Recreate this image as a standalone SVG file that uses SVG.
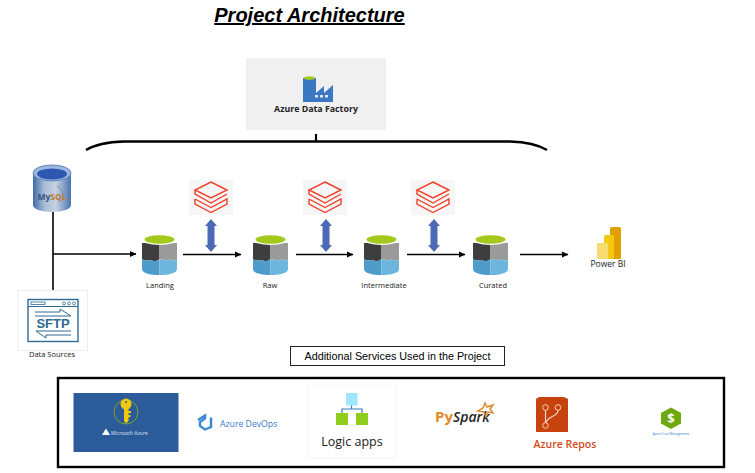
<svg xmlns="http://www.w3.org/2000/svg" width="755" height="473" viewBox="0 0 755 473">
<style>
text{font-family:"Open Sans","Liberation Sans",sans-serif;fill:#222}
.lbl{font-size:7.5px;text-anchor:middle}
.ln{stroke:#000;stroke-width:1.6;fill:none}
.arr{stroke:#000;stroke-width:1.6;fill:none;marker-end:url(#ah)}
.dbk{fill:none;stroke:#f0402a;stroke-width:1.4}
</style>
<defs>
<marker id="ah" markerUnits="userSpaceOnUse" markerWidth="7" markerHeight="7" refX="6.5" refY="3.5" orient="auto"><path d="M0 0.3L7 3.5L0 6.7z" fill="#000"/></marker>
<linearGradient id="mysqlBody" x1="0" y1="0" x2="1" y2="0"><stop offset="0" stop-color="#3f6aa8"/><stop offset="0.3" stop-color="#a9bcd6"/><stop offset="0.6" stop-color="#c6d2e2"/><stop offset="1" stop-color="#4a74b0"/></linearGradient>
<g id="cyl">
<path d="M0 6V37C0 41 8 43 18.500 43S37 41 37 37V6z" fill="#fff"/>
<path d="M18.500 10H1V26C5 29 8 26 11 27.500S16 28 18.500 26z" fill="#3e3e3e"/>
<path d="M18.500 10H36V27C32 28 30 26 27 27S22 26 18.500 26z" fill="#9a9a9a"/>
<path d="M1 26C5 29 8 26 11 27.500S16 28 18.500 26V42C9 42 1 40 1 36z" fill="#4f9bc9"/>
<path d="M36 27C32 28 30 26 27 27S22 26 18.500 26V42C28 42 36 40 36 36z" fill="#6cb6de"/>
<ellipse cx="18.500" cy="6" rx="18.500" ry="6" fill="#fff"/>
<ellipse cx="18.500" cy="6.500" rx="15" ry="4.200" fill="#a4c81c"/>
</g>
<g id="dbk">
<rect width="44" height="35" fill="#f6f6f6"/>
<path class="dbk" d="M22 2L38 10L22 18L6 10zM6 10V14L22 23L38 14M6 19L22 27.500L38 19V24L22 32.500L6 24V19"/>
</g>
<path id="vdbl" d="M0 0L6 7H3.500V26H6L0 33L-6 26H-3.500V7H-6z" fill="#4a6ab5"/>
</defs>

<text id="title" x="309.500" y="22" text-anchor="middle" font-size="20" font-weight="700" font-style="italic" text-decoration="underline" style="font-family:'Liberation Sans',sans-serif;fill:#000">Project Architecture</text>

<g id="connectors">
<path d="M86 150C96 144 108 142 124 141.500H510C526 142 537 144 547 150" fill="none" stroke="#000" stroke-width="2.600"/>
<path d="M316 134V142" stroke="#000" stroke-width="2.200"/>
<path class="ln" d="M53 212V291"/>
<path class="arr" d="M53 254H136"/>
<path class="arr" d="M183 254.500H241"/>
<path class="arr" d="M296 254.500H353"/>
<path class="arr" d="M407 254.500H465"/>
<path class="arr" d="M520 254.500H568"/>
<use href="#vdbl" x="211" y="219"/>
<use href="#vdbl" x="326" y="219"/>
<use href="#vdbl" x="434" y="219"/>
</g>

<g id="adf">
<rect x="246" y="58" width="140" height="72" fill="#f0f0f0"/>
<path d="M303 78H316V93L324 86V93L333 85V102H303z" fill="#3a78c4"/>
<ellipse cx="309.500" cy="78" rx="5.500" ry="1.800" fill="#a4c81c"/>
<rect x="315" y="95" width="3" height="2.500" fill="#dfe9f5"/><rect x="320" y="95" width="3" height="2.500" fill="#dfe9f5"/><rect x="325" y="95" width="3" height="2.500" fill="#dfe9f5"/>
<text x="316" y="112" text-anchor="middle" font-size="8.800" font-weight="700">Azure Data Factory</text>
</g>

<g id="mysql">
<path d="M33 173V205C33 209 41 212 52 212S71 209 71 205V173z" fill="url(#mysqlBody)"/>
<ellipse cx="52" cy="173" rx="19" ry="8" fill="#9db8de" stroke="#5f86bd"/>
<ellipse cx="52" cy="174" rx="15" ry="5.500" fill="#2d57b0"/>
<path d="M57 186C61 188 63 192 64 197" fill="none" stroke="#6f7f95" stroke-width="0.700"/>
<text x="52" y="200" text-anchor="middle" font-size="8.500" font-weight="700" style="fill:#35557f">My<tspan fill="#c07a2a">SQL</tspan></text>
</g>

<g id="sftp">
<rect x="18" y="290.500" width="69.500" height="60" fill="#fff" stroke="#eee"/>
<rect x="28" y="299.500" width="50" height="42" fill="none" stroke="#2e6a93" stroke-width="1.400"/>
<path d="M28 306.500H78" stroke="#2e6a93"/>
<rect x="31" y="302" width="14" height="2.500" fill="none" stroke="#2e6a93" stroke-width="0.800"/>
<circle cx="64" cy="303.500" r="1.500" fill="none" stroke="#2e6a93" stroke-width="0.800"/><circle cx="69" cy="303.500" r="1.500" fill="none" stroke="#2e6a93" stroke-width="0.800"/><circle cx="74" cy="303.500" r="1.500" fill="none" stroke="#2e6a93" stroke-width="0.800"/>
<path d="M35 312H60V309L71 316H35M71 335H46V338L36 331H71" fill="none" stroke="#2e6a93"/>
<text x="53" y="328" text-anchor="middle" font-size="13" font-weight="700" style="font-family:'Liberation Sans',sans-serif;fill:#2e6a93">SFTP</text>
<text x="52" y="357" class="lbl">Data Sources</text>
</g>

<g id="landing"><use href="#cyl" x="141" y="233"/><text x="160" y="288" class="lbl">Landing</text></g>
<g id="raw"><use href="#cyl" x="252" y="233"/><text x="270" y="288" class="lbl">Raw</text></g>
<g id="intermediate"><use href="#cyl" x="363" y="233"/><text x="384" y="288" class="lbl">Intermediate</text></g>
<g id="curated"><use href="#cyl" x="472" y="233"/><text x="493" y="288" class="lbl">Curated</text></g>

<g id="databricks1"><use href="#dbk" x="189" y="180"/></g>
<g id="databricks2"><use href="#dbk" x="303" y="180"/></g>
<g id="databricks3"><use href="#dbk" x="411" y="180"/></g>

<g id="powerbi">
<rect x="610" y="227" width="11" height="32" rx="1.500" fill="#e0a000"/>
<rect x="604" y="235" width="10" height="24" rx="1.500" fill="#f2c811"/>
<rect x="597" y="243" width="11" height="16" rx="1.500" fill="#f7dc6f"/>
<text x="608" y="267" text-anchor="middle" font-size="8.500">Power BI</text>
</g>

<g id="additional-title">
<rect x="290.500" y="346.500" width="214" height="19" fill="#fff" stroke="#222" stroke-width="1"/>
<text x="397.500" y="360" text-anchor="middle" font-size="10.800" style="font-family:'Liberation Sans',sans-serif;fill:#000">Additional Services Used in the Project</text>
</g>

<g id="services">
<rect x="58" y="378" width="666" height="89" fill="#fff" stroke="#000" stroke-width="2.400"/>
</g>

<g id="key-vault">
<rect x="73.500" y="393" width="105" height="59" fill="#2c5b9a"/>
<circle cx="126" cy="412" r="12" fill="none" stroke="#7ea52a" stroke-width="1"/>
<circle cx="126" cy="404" r="5.500" fill="#f2c811"/>
<circle cx="126" cy="402" r="1" fill="#2c5b9a"/>
<path d="M124 408H128.500V411H131V413H128.500V415H130.500V417H128.500V421L126 423.500L124 421z" fill="#f2c811"/>
<path d="M102 435L106 428.500L110 435z" fill="#fff"/>
<text x="111" y="434.500" font-size="5" style="fill:#dde6f2">Microsoft Azure</text>
</g>

<g id="devops">
<path d="M198 420L205 415.500V418.500L200 422V426L205 429.500L211 427V417.500" fill="none" stroke="#3a86d8" stroke-width="2.400"/>
<text x="220" y="426.500" font-size="8.700" style="fill:#3a78c8">Azure DevOps</text>
</g>

<g id="logic-apps">
<rect x="307.500" y="384" width="88" height="74" fill="#fff" stroke="#f6f6f6"/>
<path d="M351.500 405V409M351.500 409H342V414M351.500 409H362V414" fill="none" stroke="#3a78c4" stroke-width="1.200"/>
<rect x="346" y="393" width="11.500" height="12.500" fill="#9fe6ff"/>
<rect x="336" y="413" width="12" height="12" fill="#8fce1c"/>
<rect x="356" y="413" width="12" height="12" fill="#8fce1c"/>
<text x="352" y="446" text-anchor="middle" font-size="12.500">Logic apps</text>
</g>

<g id="pyspark">
<text x="435" y="422" font-size="15" font-weight="700" style="fill:#e08a2c">Py<tspan font-style="italic" fill="#222" font-size="14" font-weight="600">Spark</tspan></text>
<path d="M485 403L487 407L493 405L490 409L493 413L488 412L486 417L484 412L478 411L483 408z" fill="none" stroke="#e08a2c" stroke-width="1.500"/>
</g>

<g id="azure-repos">
<path d="M536 399L539 397H564L568 399V432H536z" fill="#c8420e"/>
<path d="M545.500 410V423M558 410.500C558 417 547 416 546 423" fill="none" stroke="#f6d3c0" stroke-width="1.200"/>
<circle cx="545.500" cy="407.500" r="2.800" fill="#c8420e" stroke="#f6d3c0"/><circle cx="558" cy="407.500" r="2.800" fill="#c8420e" stroke="#f6d3c0"/><circle cx="545.500" cy="425.500" r="2.800" fill="#c8420e" stroke="#f6d3c0"/>
<text x="565" y="448" text-anchor="middle" font-size="10.500" font-weight="600" style="fill:#d24a1c">Azure Repos</text>
</g>

<g id="cost-management">
<path d="M671 407.500L681 413V423.500L671 429L661 423.500V413z" fill="#6fa80f"/>
<text x="671" y="423" text-anchor="middle" font-size="13" font-weight="700" style="fill:#fff">$</text>
<text x="671" y="434.500" text-anchor="middle" font-size="3.200" style="fill:#2a7ad0">Azure Cost Management</text>
</g>
</svg>
